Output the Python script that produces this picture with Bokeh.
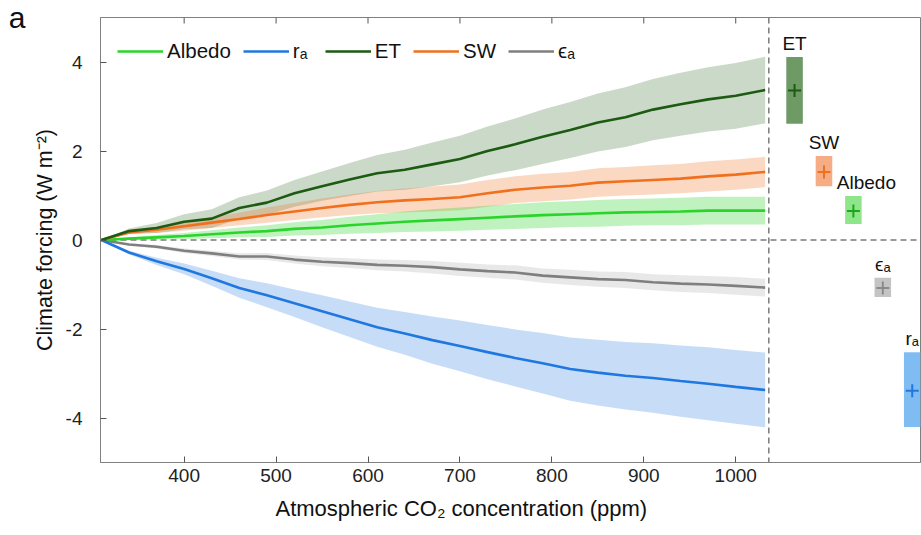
from bokeh.plotting import figure
from bokeh.models import (Range1d, Span, Legend, LegendItem, Title, LinearAxis,
                          FixedTicker, ColumnDataSource)
from bokeh.core.properties import value
from bokeh.embed import file_html
from bokeh.resources import INLINE

# ---------------- data ----------------
co2 = [310, 340, 370, 400, 430, 460, 490, 520, 550, 580, 610, 640, 670, 700,
       730, 760, 790, 820, 850, 880, 910, 940, 970, 1000, 1032]

albedo = [0, 0.03, 0.06, 0.09, 0.13, 0.17, 0.20, 0.25, 0.28, 0.33, 0.37, 0.41,
          0.44, 0.47, 0.50, 0.53, 0.56, 0.58, 0.60, 0.62, 0.63, 0.64, 0.66, 0.66, 0.66]
albedo_unc = [0, 0.03, 0.05, 0.07, 0.09, 0.11, 0.13, 0.15, 0.17, 0.19, 0.21, 0.23,
              0.25, 0.26, 0.27, 0.28, 0.29, 0.29, 0.30, 0.30, 0.30, 0.31, 0.31, 0.31, 0.31]

ra = [0, -0.28, -0.48, -0.65, -0.86, -1.08, -1.24, -1.42, -1.60, -1.78, -1.96, -2.10,
      -2.25, -2.38, -2.52, -2.65, -2.77, -2.90, -2.98, -3.05, -3.10, -3.17, -3.23, -3.30, -3.37]
ra_unc = [0, 0.04, 0.08, 0.12, 0.17, 0.22, 0.27, 0.31, 0.36, 0.40, 0.44, 0.48,
          0.53, 0.57, 0.61, 0.64, 0.68, 0.71, 0.74, 0.76, 0.78, 0.80, 0.82, 0.83, 0.84]

et = [0, 0.20, 0.27, 0.41, 0.48, 0.72, 0.84, 1.05, 1.21, 1.36, 1.50, 1.58,
      1.70, 1.82, 2.00, 2.15, 2.32, 2.47, 2.64, 2.76, 2.93, 3.05, 3.16, 3.24, 3.37]
et_unc = [0, 0.06, 0.11, 0.17, 0.21, 0.24, 0.27, 0.30, 0.33, 0.37, 0.41, 0.45,
          0.49, 0.52, 0.55, 0.58, 0.61, 0.63, 0.65, 0.67, 0.69, 0.71, 0.72, 0.74, 0.75]

sw = [0, 0.17, 0.23, 0.31, 0.39, 0.47, 0.56, 0.64, 0.72, 0.79, 0.85, 0.89,
      0.92, 0.96, 1.05, 1.13, 1.18, 1.22, 1.29, 1.32, 1.35, 1.38, 1.43, 1.47, 1.53]
sw_unc = [0, 0.04, 0.07, 0.10, 0.12, 0.14, 0.17, 0.19, 0.21, 0.23, 0.25, 0.27,
          0.28, 0.29, 0.30, 0.30, 0.31, 0.31, 0.32, 0.32, 0.33, 0.33, 0.34, 0.34, 0.34]

eps = [0, -0.10, -0.15, -0.24, -0.30, -0.37, -0.37, -0.44, -0.49, -0.52, -0.56, -0.58,
       -0.61, -0.66, -0.70, -0.73, -0.80, -0.84, -0.88, -0.90, -0.95, -0.98, -1.00, -1.03, -1.07]
eps_unc = [0, 0.02, 0.04, 0.05, 0.06, 0.07, 0.08, 0.09, 0.10, 0.11, 0.12, 0.13,
           0.14, 0.15, 0.15, 0.16, 0.16, 0.17, 0.17, 0.18, 0.18, 0.19, 0.19, 0.20, 0.20]

# summary bars at the right (value at the end of the period)
bar_names = ["ET", "SW", "Albedo", "ϵₐ", "rₐ"]
bar_pos = [1064, 1096, 1128, 1160, 1192]
bar_mean = [3.36, 1.53, 0.65, -1.08, -3.39]
bar_low = [2.61, 1.21, 0.36, -1.28, -4.20]
bar_high = [4.11, 1.89, 0.99, -0.85, -2.52]

x_ticks = [400, 500, 600, 700, 800, 900, 1000]
y_ticks = [-4, -2, 0, 2, 4]
y_tick_labels = {-4: "-4", -2: "-2", 0: "0", 2: "2", 4: "4"}
divider_co2 = 1036
x_min, x_max, y_min, y_max = 309, 1201, -5, 5
panel_tag = "a"

# ---------------- styles ----------------
FONT = "Liberation Sans"
C_ALB, C_RA, C_ET, C_SW, C_EPS = "#2ad42a", "#1f78e0", "#1d5a12", "#f0701e", "#7f7f7f"
BAR_FILL = ["#6e9a66", "#f6ad85", "#8fe68a", "#c4c4c4", "#7fbcf2"]
BAR_LINE = [C_ET, C_SW, "#1aa81a", "#8a8a8a", C_RA]
AXC = "#808080"
TXT = "#111111"

p = figure(width=921, height=535, output_backend="svg", toolbar_location=None,
           x_range=Range1d(x_min, x_max), y_range=Range1d(y_min, y_max),
           min_border_left=100, min_border_right=1, min_border_top=17,
           min_border_bottom=73)
p.grid.visible = False
p.outline_line_color = AXC
p.background_fill_color = "white"

src = ColumnDataSource(dict(
    x=co2,
    alb=albedo, alb_lo=[m - u for m, u in zip(albedo, albedo_unc)], alb_hi=[m + u for m, u in zip(albedo, albedo_unc)],
    ra=ra, ra_lo=[m - u for m, u in zip(ra, ra_unc)], ra_hi=[m + u for m, u in zip(ra, ra_unc)],
    et=et, et_lo=[m - u for m, u in zip(et, et_unc)], et_hi=[m + u for m, u in zip(et, et_unc)],
    sw=sw, sw_lo=[m - u for m, u in zip(sw, sw_unc)], sw_hi=[m + u for m, u in zip(sw, sw_unc)],
    eps=eps, eps_lo=[m - u for m, u in zip(eps, eps_unc)], eps_hi=[m + u for m, u in zip(eps, eps_unc)],
))

# uncertainty bands
p.varea(x="x", y1="et_lo", y2="et_hi", source=src, fill_color=C_ET, fill_alpha=0.23)
p.varea(x="x", y1="sw_lo", y2="sw_hi", source=src, fill_color=C_SW, fill_alpha=0.27)
p.varea(x="x", y1="alb_lo", y2="alb_hi", source=src, fill_color=C_ALB, fill_alpha=0.30)
p.varea(x="x", y1="eps_lo", y2="eps_hi", source=src, fill_color=C_EPS, fill_alpha=0.18)
p.varea(x="x", y1="ra_lo", y2="ra_hi", source=src, fill_color=C_RA, fill_alpha=0.25)

# reference dashed lines
p.add_layout(Span(location=0, dimension="width", line_color="#7a7a7a",
                  line_dash="6 4", line_width=1.5, level="underlay"))
p.add_layout(Span(location=divider_co2, dimension="height", line_color="#7a7a7a",
                  line_dash="6 4", line_width=1.5, level="underlay"))

LW = 2.6
r_eps = p.line("x", "eps", source=src, line_color=C_EPS, line_width=LW)
r_ra = p.line("x", "ra", source=src, line_color=C_RA, line_width=LW)
r_alb = p.line("x", "alb", source=src, line_color=C_ALB, line_width=LW)
r_sw = p.line("x", "sw", source=src, line_color=C_SW, line_width=LW)
r_et = p.line("x", "et", source=src, line_color=C_ET, line_width=LW)

# summary bars
bsrc = ColumnDataSource(dict(x=bar_pos, mean=bar_mean, lo=bar_low, hi=bar_high,
                             name=bar_names, fill=BAR_FILL, line=BAR_LINE))
p.vbar(x="x", width=18, bottom="lo", top="hi", source=bsrc,
       fill_color="fill", line_color=None)
p.scatter(x="x", y="mean", source=bsrc, marker="cross", size=13,
          line_width=2, line_color="line")

lab_other = ColumnDataSource(dict(x=[bar_pos[i] for i in (0, 1, 3, 4)],
                                  y=[bar_high[i] for i in (0, 1, 3, 4)],
                                  t=[bar_names[i] for i in (0, 1, 3, 4)]))
p.text(x="x", y="y", text="t", source=lab_other, text_align="center",
       text_baseline="bottom", y_offset=-3, text_font=value(FONT),
       text_font_size="19px", text_color=TXT)
lab_alb = ColumnDataSource(dict(x=[bar_pos[2]], y=[bar_high[2]], t=[bar_names[2]]))
p.text(x="x", y="y", text="t", source=lab_alb, text_align="center",
       text_baseline="bottom", y_offset=-3, x_offset=13, text_font=value(FONT),
       text_font_size="19px", text_color=TXT)

# inward tick marks on the top edge of the box (MATLAB style)
tick_len = (y_max - y_min) * 6 / 445
p.segment(x0=x_ticks, x1=x_ticks, y0=[y_max] * len(x_ticks),
          y1=[y_max - tick_len] * len(x_ticks), line_color="#555555", line_width=1)

# axes
for ax in (p.xaxis[0], p.yaxis[0]):
    ax.major_tick_in = 6
    ax.major_tick_out = 0
    ax.minor_tick_in = 0
    ax.minor_tick_out = 0
    ax.axis_line_color = AXC
    ax.major_tick_line_color = "#555555"
    ax.major_label_text_font = FONT
    ax.major_label_text_font_size = "19px"
    ax.major_label_text_color = "#222222"
p.xaxis.ticker = FixedTicker(ticks=x_ticks)
p.yaxis.ticker = FixedTicker(ticks=y_ticks)
p.yaxis.major_label_overrides = y_tick_labels
p.xaxis.major_label_standoff = 6
p.yaxis.major_label_standoff = 18
p.yaxis.axis_label = "Climate forcing (W m⁻²)"
p.yaxis.axis_label_text_font = FONT
p.yaxis.axis_label_text_font_size = "21.5px"
p.yaxis.axis_label_text_font_style = "normal"
p.yaxis.axis_label_text_color = TXT
p.yaxis.axis_label_standoff = 6

# panel letter "a": label of an outer, line-less axis at the top of the frame
tag_axis = LinearAxis(ticker=FixedTicker(ticks=[y_max]),
                      major_label_overrides={y_max: panel_tag},
                      axis_line_color=None, major_tick_line_color=None,
                      minor_tick_line_color=None, major_tick_in=0, major_tick_out=0,
                      minor_tick_in=0, minor_tick_out=0,
                      major_label_text_font=FONT, major_label_text_font_size="30px",
                      major_label_text_color=TXT, major_label_standoff=4)
p.add_layout(tag_axis, "left")

p.add_layout(Title(text="Atmospheric CO₂ concentration  (ppm)", align="left",
                   offset=175, text_font=FONT, text_font_size="22px",
                   text_font_style="normal", text_color=TXT, standoff=18), "below")

legend = Legend(items=[LegendItem(label="Albedo", renderers=[r_alb]),
                       LegendItem(label="rₐ", renderers=[r_ra]),
                       LegendItem(label="ET", renderers=[r_et]),
                       LegendItem(label="SW", renderers=[r_sw]),
                       LegendItem(label="ϵₐ", renderers=[r_eps])],
                orientation="horizontal", location="top_left",
                border_line_alpha=0, background_fill_alpha=0,
                glyph_width=46, glyph_height=34, label_height=34,
                label_standoff=4, spacing=12,
                label_text_font=FONT, label_text_font_size="20.5px",
                label_text_color=TXT, margin=11, padding=6)
p.add_layout(legend)

open("out.html", "w").write(file_html(p, INLINE))
